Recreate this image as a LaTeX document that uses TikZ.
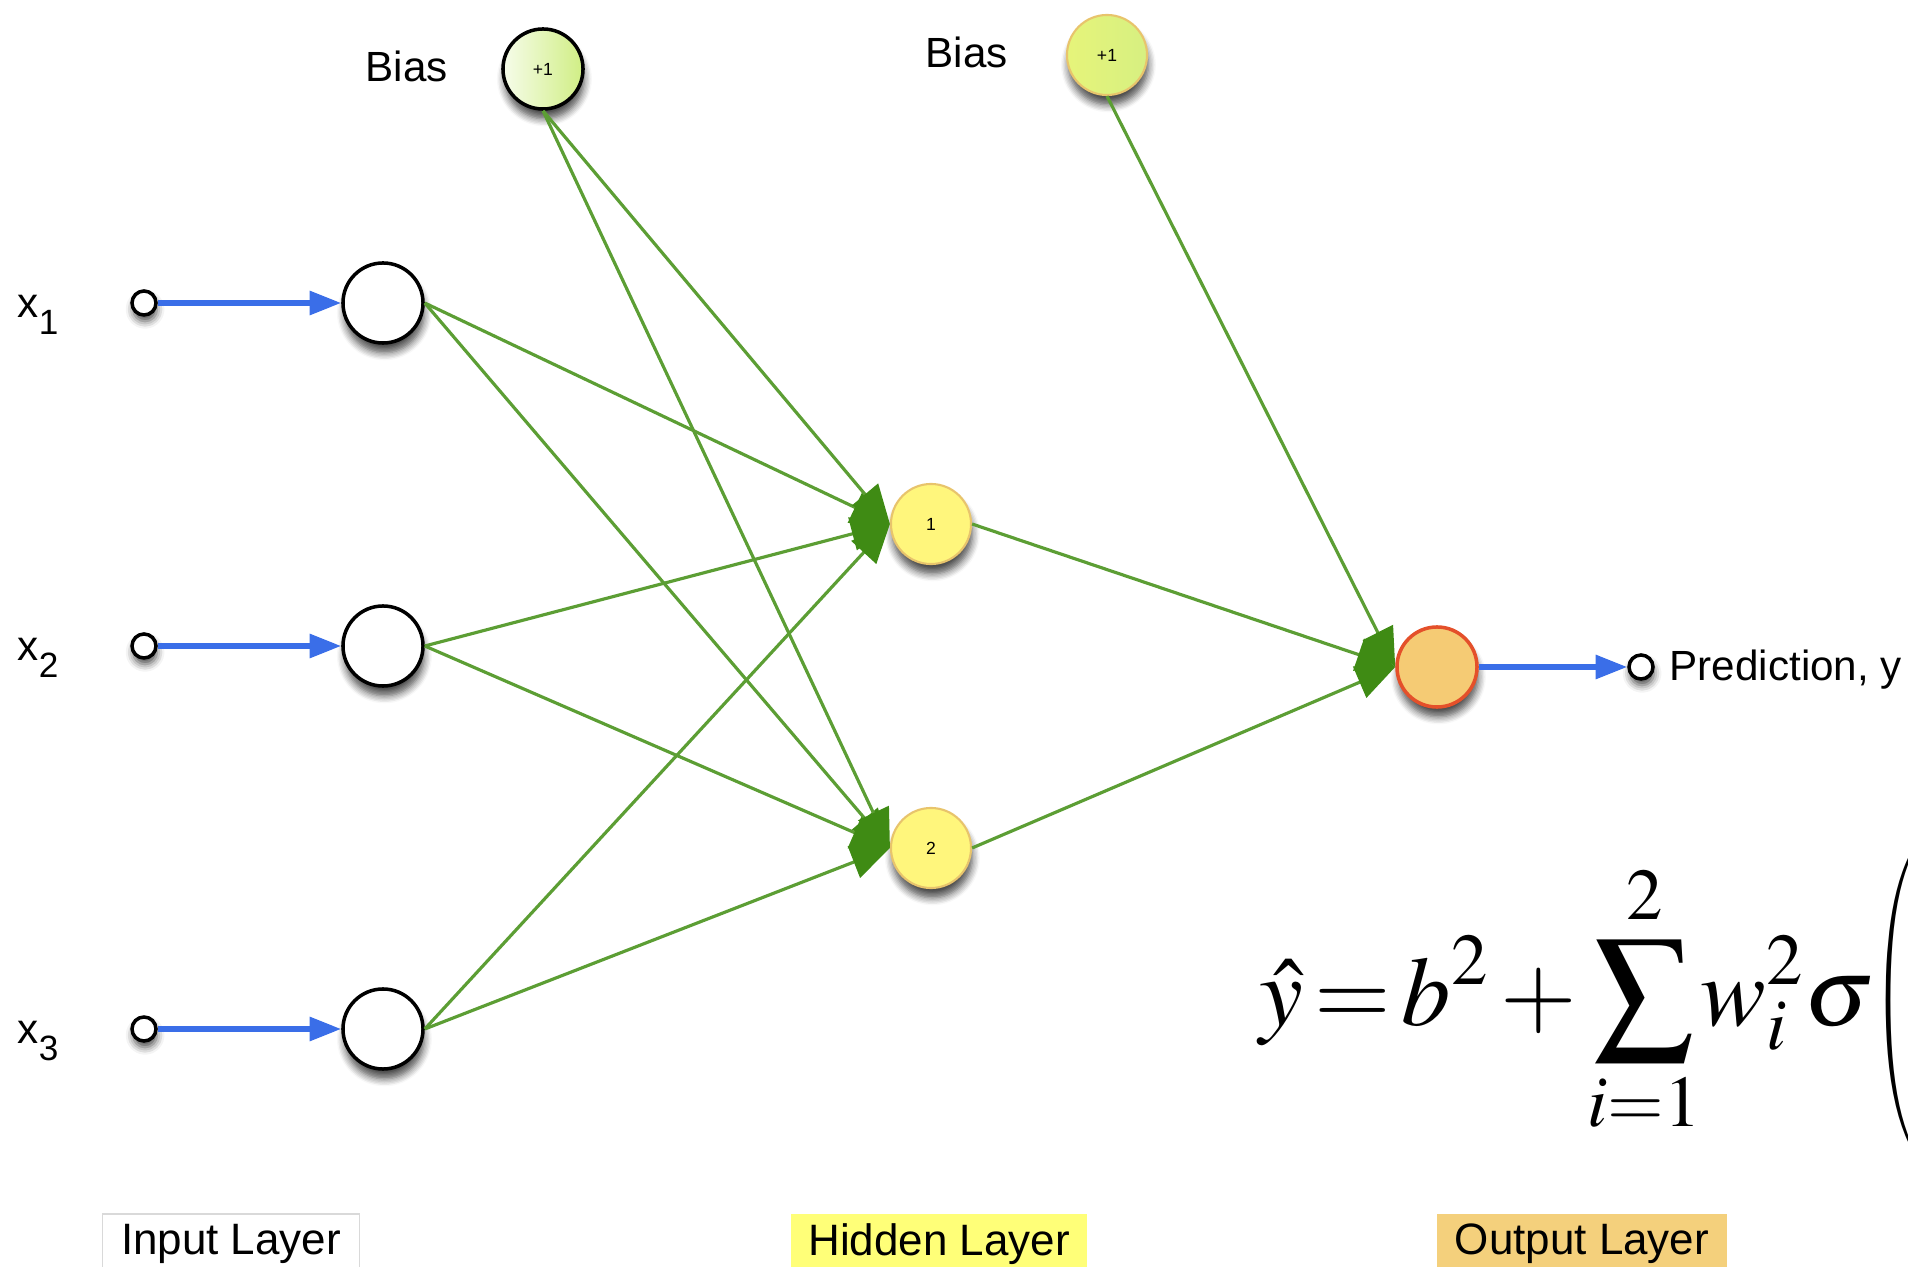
\documentclass[tikz,border=0pt]{standalone}
\usepackage{mathptmx}
\usepackage{graphicx}
\usepackage{fontspec}
\setmainfont{Liberation Sans}
\usepackage{xcolor}
\usepackage{tikz}
\usetikzlibrary{arrows.meta,shadows.blur}
\definecolor{wgreen}{HTML}{5C9E34}
\definecolor{tipgreen}{HTML}{3F8B14}
\definecolor{inblue}{HTML}{3A6EE8}
\definecolor{hidyel}{HTML}{FFF67C}
\definecolor{hidrim}{HTML}{E8C46C}
\definecolor{outfill}{HTML}{F5CB74}
\definecolor{outrim}{HTML}{E4502A}
\definecolor{biasyel}{HTML}{E6F47A}
\definecolor{biaspale}{HTML}{F6FCEA}
\definecolor{biasgr}{HTML}{D0EE84}
\definecolor{hidlab}{HTML}{FFFF78}
\definecolor{outlab}{HTML}{F4D07C}

\begin{document}
\begin{tikzpicture}[x=0.01cm,y=-0.01cm,
neuron/.style={circle,minimum size=0.8cm,inner sep=0pt,line width=1pt,font=\fontsize{5}{6}\selectfont,
  blur shadow={shadow xshift=0.4pt,shadow yshift=-2.8pt,shadow blur steps=6,shadow opacity=70}},
port/.style={circle,minimum size=0.24cm,inner sep=0pt,line width=1pt,draw=black,fill=white,
  blur shadow={shadow xshift=0.3pt,shadow yshift=-1.8pt,shadow blur steps=4,shadow opacity=70}},
lab/.style={font=\fontsize{12}{14}\selectfont,inner sep=0pt},
laybox/.style={font=\fontsize{12.5}{15}\selectfont,minimum height=0.6cm,inner sep=0pt},
weight/.style={draw=wgreen,line width=0.9pt,-{Triangle[length=11pt,width=9.5pt,color=tipgreen]}},
feed/.style={draw=inblue,line width=1.6pt,-{Triangle[length=9pt,width=6.6pt]}}]
\useasboundingbox (0,0) rectangle (1908,1267);

\node[neuron,draw=black,fill=white] (n1) at (383,303) {};
\node[neuron,draw=black,fill=white] (n2) at (383,646) {};
\node[neuron,draw=black,fill=white] (n3) at (383,1029) {};
\node[port] (p1) at (144,303) {};
\node[port] (p2) at (144,646) {};
\node[port] (p3) at (144,1029) {};
\node[lab,anchor=base west] (x1) at (17,318) {x\raisebox{-4.8pt}{\fontsize{10}{12}\selectfont 1}};
\node[lab,anchor=base west] (x2) at (17,661) {x\raisebox{-4.8pt}{\fontsize{10}{12}\selectfont 2}};
\node[lab,anchor=base west] (x3) at (17,1044) {x\raisebox{-4.8pt}{\fontsize{10}{12}\selectfont 3}};

\node[neuron,draw=black,left color=biaspale,right color=biasgr] (b1) at (543,69) {+1};
\node[neuron,draw=hidrim,line width=0.6pt,left color=biasyel,right color=biasgr!70!biasyel] (b2) at (1107,55) {+1};
\node[lab,anchor=base west] (bias1) at (365,82) {Bias};
\node[lab,anchor=base west] (bias2) at (925,68) {Bias};

\node[neuron,draw=hidrim,line width=0.6pt,fill=hidyel] (h1) at (931,524) {1};
\node[neuron,draw=hidrim,line width=0.6pt,fill=hidyel] (h2) at (931,848) {2};
\node[neuron,draw=outrim,line width=1pt,fill=outfill] (o) at (1437,667) {};
\node[port] (po) at (1641,667) {};
\node[lab,anchor=base west] (pred) at (1669,681) {Prediction, y};

\draw[feed] (p1)--(n1);
\draw[feed] (p2)--(n2);
\draw[feed] (p3)--(n3);
\draw[feed] (o)--(po);

\draw[weight] (n1.east)--(h1.west);
\draw[weight] (n1.east)--(h2.west);
\draw[weight] (n2.east)--(h1.west);
\draw[weight] (n2.east)--(h2.west);
\draw[weight] (n3.east)--(h1.west);
\draw[weight] (n3.east)--(h2.west);
\draw[weight] (b1.south)--(h1.west);
\draw[weight] (b1.south)--(h2.west);
\draw[weight] (h1.east)--(o.west);
\draw[weight] (h2.east)--(o.west);
\draw[weight] (b2.south)--(o.west);

\node[anchor=base west,inner sep=0pt,font=\fontsize{28}{34}\selectfont] (fml) at (1259,1025)
  {$\displaystyle\thickmuskip=2mu\medmuskip=2mu\hat{y}=b^{2}+\sum_{i=1}^{2}\!w_i^{2}\sigma\vcenter{\hbox{\scalebox{0.5}[0.98]{$\left(\vrule height 1.7cm depth 1.15cm width 0pt\right.$}}}$};

\node[laybox,draw=black!15,fill=white,minimum width=2.57cm] (inlay) at (231,1244) {Input Layer};
\node[laybox,fill=hidlab,minimum width=2.96cm] (hidlay) at (939,1244) {Hidden Layer};
\node[laybox,fill=outlab,minimum width=2.89cm] (outlay) at (1582,1244) {Output Layer};
\end{tikzpicture}
\end{document}
